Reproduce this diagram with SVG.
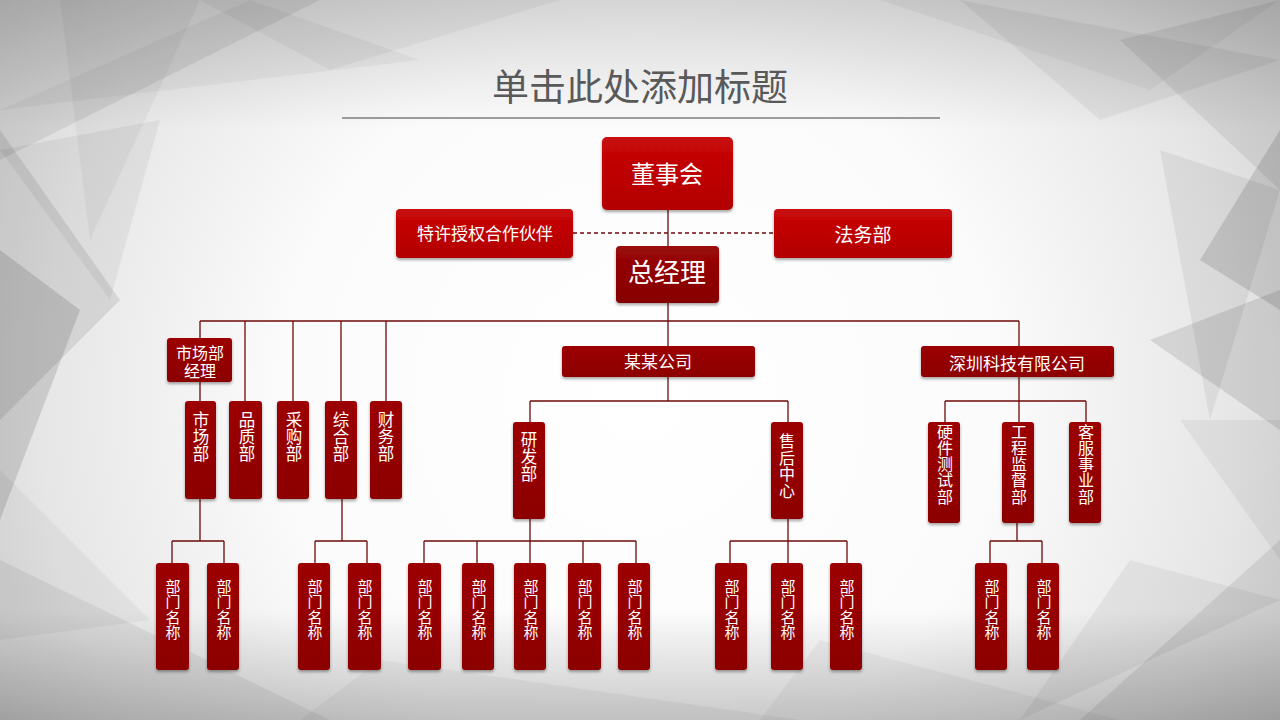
<svg xmlns="http://www.w3.org/2000/svg" width="1280" height="720" viewBox="0 0 1280 720">
<defs>
<radialGradient id="bg" cx="640" cy="400" r="800" gradientUnits="userSpaceOnUse">
<stop offset="0" stop-color="#ffffff"/>
<stop offset="0.45" stop-color="#fbfbfb"/>
<stop offset="0.75" stop-color="#e6e6e6"/>
<stop offset="1" stop-color="#cacaca"/>
</radialGradient>
<linearGradient id="topBand" x1="0" y1="0" x2="0" y2="1">
<stop offset="0" stop-color="#000" stop-opacity="0.14"/>
<stop offset="1" stop-color="#000" stop-opacity="0"/>
</linearGradient>
<linearGradient id="botBand" x1="0" y1="0" x2="0" y2="1">
<stop offset="0" stop-color="#000" stop-opacity="0"/>
<stop offset="1" stop-color="#000" stop-opacity="0.2"/>
</linearGradient>
<linearGradient id="gBright" x1="0" y1="0" x2="0" y2="1">
<stop offset="0" stop-color="#C80808"/>
<stop offset="1" stop-color="#B30000"/>
</linearGradient>
<linearGradient id="gDark" x1="0" y1="0" x2="0" y2="1">
<stop offset="0" stop-color="#9A0808"/>
<stop offset="1" stop-color="#860000"/>
</linearGradient>
<linearGradient id="gSmall" x1="0" y1="0" x2="0" y2="1">
<stop offset="0" stop-color="#9C0404"/>
<stop offset="1" stop-color="#8C0000"/>
</linearGradient>
<filter id="sh" x="-30%" y="-20%" width="160%" height="150%">
<feDropShadow dx="0" dy="2" stdDeviation="1.6" flood-color="#000" flood-opacity="0.35"/>
</filter>
</defs>
<style>
.t{font-family:"Noto Sans CJK SC","Noto Sans",sans-serif;fill:#ffffff;text-anchor:middle}
.title{font-family:"Noto Sans CJK SC","Noto Sans",sans-serif;fill:#595959;text-anchor:middle;font-size:37px}
.bright{fill:url(#gBright);filter:url(#sh)}
.dark{fill:url(#gDark);filter:url(#sh)}
.small{fill:url(#gSmall);filter:url(#sh)}
.v3{font-size:16.5px}
.v5{font-size:16px}
.v4{font-size:15px}
#connectors line{stroke:#6E0A0A;stroke-width:1.3;fill:none}
.facet{fill:#000}
</style>
<g id="background">
<rect width="1280" height="720" fill="url(#bg)"/>
<rect width="1280" height="130" fill="url(#topBand)"/>
<rect y="610" width="1280" height="110" fill="url(#botBand)"/>
<polygon class="facet" opacity="0.07" points="0,0 320,0 0,160"/>
<polygon class="facet" opacity="0.04" points="200,0 560,0 330,70"/>
<polygon class="facet" opacity="0.04" points="250,0 420,60 0,110"/>
<polygon class="facet" opacity="0.04" points="880,0 1280,0 1150,90"/>
<polygon class="facet" opacity="0.07" points="1120,40 1280,0 1280,190"/>
<polygon class="facet" opacity="0.05" points="960,0 1100,120 1280,60"/>
<polygon class="facet" opacity="0.12" points="1280,130 1200,260 1280,310"/>
<polygon class="facet" opacity="0.10" points="1280,290 1150,340 1280,430"/>
<polygon class="facet" opacity="0.06" points="1160,150 1280,190 1210,420"/>
<polygon class="facet" opacity="0.05" points="1180,420 1280,420 1280,560"/>
<polygon class="facet" opacity="0.08" points="1280,540 1080,720 1280,720"/>
<polygon class="facet" opacity="0.05" points="1130,560 1280,600 1020,720"/>
<polygon class="facet" opacity="0.04" points="820,640 1120,720 760,720"/>
<polygon class="facet" opacity="0.04" points="380,660 800,720 300,720"/>
<polygon class="facet" opacity="0.06" points="0,560 330,720 0,720"/>
<polygon class="facet" opacity="0.04" points="0,470 150,620 0,640"/>
<polygon class="facet" opacity="0.09" points="0,130 120,300 0,420"/>
<polygon class="facet" opacity="0.12" points="0,250 80,310 0,520"/>
<polygon class="facet" opacity="0.05" points="0,150 160,120 110,300"/>
<polygon class="facet" opacity="0.04" points="60,0 200,0 90,240"/>
</g>
<line x1="342" y1="118" x2="940" y2="118" stroke="#404040" stroke-width="1"/>
<text class="title" x="640" y="101">单击此处添加标题</text>
<g id="connectors">
<line x1="668" y1="210" x2="668" y2="246"/>
<line x1="573" y1="233" x2="774" y2="233" stroke-dasharray="4 3"/>
<line x1="668" y1="303" x2="668" y2="346"/>
<line x1="200" y1="321" x2="1019" y2="321"/>
<line x1="200" y1="321" x2="200" y2="338"/>
<line x1="200" y1="382" x2="200" y2="401"/>
<line x1="245" y1="321" x2="245" y2="401"/>
<line x1="293" y1="321" x2="293" y2="401"/>
<line x1="341" y1="321" x2="341" y2="401"/>
<line x1="386" y1="321" x2="386" y2="401"/>
<line x1="1019" y1="321" x2="1019" y2="346"/>
<line x1="668" y1="377" x2="668" y2="401"/>
<line x1="530" y1="401" x2="788" y2="401"/>
<line x1="530" y1="401" x2="530" y2="422"/>
<line x1="788" y1="401" x2="788" y2="422"/>
<line x1="1019" y1="377" x2="1019" y2="422"/>
<line x1="945" y1="401" x2="1086" y2="401"/>
<line x1="945" y1="401" x2="945" y2="422"/>
<line x1="1086" y1="401" x2="1086" y2="422"/>
<line x1="200" y1="499" x2="200" y2="541"/>
<line x1="172" y1="541" x2="224" y2="541"/>
<line x1="172" y1="541" x2="172" y2="563"/>
<line x1="224" y1="541" x2="224" y2="563"/>
<line x1="342" y1="499" x2="342" y2="541"/>
<line x1="315" y1="541" x2="367" y2="541"/>
<line x1="315" y1="541" x2="315" y2="563"/>
<line x1="367" y1="541" x2="367" y2="563"/>
<line x1="530" y1="519" x2="530" y2="563"/>
<line x1="424" y1="541" x2="636" y2="541"/>
<line x1="424" y1="541" x2="424" y2="563"/>
<line x1="477" y1="541" x2="477" y2="563"/>
<line x1="583" y1="541" x2="583" y2="563"/>
<line x1="636" y1="541" x2="636" y2="563"/>
<line x1="788" y1="519" x2="788" y2="563"/>
<line x1="730" y1="541" x2="847" y2="541"/>
<line x1="730" y1="541" x2="730" y2="563"/>
<line x1="847" y1="541" x2="847" y2="563"/>
<line x1="1017" y1="523" x2="1017" y2="541"/>
<line x1="990" y1="541" x2="1042" y2="541"/>
<line x1="990" y1="541" x2="990" y2="563"/>
<line x1="1042" y1="541" x2="1042" y2="563"/>
</g>
<g id="board"><rect class="bright" x="602" y="137" width="131" height="73" rx="5"/><text class="t" x="667" y="183" font-size="24">董事会</text></g>
<g id="franchise"><rect class="bright" x="396" y="209" width="177" height="49" rx="4"/><text class="t" x="485" y="240" font-size="17">特许授权合作伙伴</text></g>
<g id="legal"><rect class="bright" x="774" y="209" width="178" height="49" rx="4"/><text class="t" x="863" y="242" font-size="19">法务部</text></g>
<g id="gm"><rect class="dark" x="616" y="246" width="103" height="57" rx="4"/><text class="t" x="667" y="282" font-size="26">总经理</text></g>
<g id="market-mgr"><rect class="small" x="167" y="338" width="65" height="44" rx="3"/><text class="t" font-size="16"><tspan x="200" y="358.5">市场部</tspan><tspan x="200" y="377">经理</tspan></text></g>
<g id="company-a"><rect class="small" x="562" y="346" width="193" height="31" rx="3"/><text class="t" x="658" y="368" font-size="17">某某公司</text></g>
<g id="company-sz"><rect class="small" x="921" y="346" width="193" height="31" rx="3"/><text class="t" x="1017" y="370" font-size="17">深圳科技有限公司</text></g>
<g id="market"><rect class="small" x="185" y="401" width="31" height="98" rx="3"/><text class="t v3"><tspan x="201" y="426">市</tspan><tspan x="201" y="443">场</tspan><tspan x="201" y="460">部</tspan></text></g>
<g id="quality"><rect class="small" x="229" y="401" width="33" height="98" rx="3"/><text class="t v3"><tspan x="247" y="426">品</tspan><tspan x="247" y="443">质</tspan><tspan x="247" y="460">部</tspan></text></g>
<g id="purchase"><rect class="small" x="277" y="401" width="32" height="98" rx="3"/><text class="t v3"><tspan x="294" y="426">采</tspan><tspan x="294" y="443">购</tspan><tspan x="294" y="460">部</tspan></text></g>
<g id="general"><rect class="small" x="325" y="401" width="32" height="98" rx="3"/><text class="t v3"><tspan x="341" y="426">综</tspan><tspan x="341" y="443">合</tspan><tspan x="341" y="460">部</tspan></text></g>
<g id="finance"><rect class="small" x="370" y="401" width="32" height="98" rx="3"/><text class="t v3"><tspan x="386" y="426">财</tspan><tspan x="386" y="443">务</tspan><tspan x="386" y="460">部</tspan></text></g>
<g id="rd"><rect class="small" x="513" y="422" width="32" height="97" rx="3"/><text class="t v3"><tspan x="529" y="446">研</tspan><tspan x="529" y="463">发</tspan><tspan x="529" y="480">部</tspan></text></g>
<g id="aftersales"><rect class="small" x="771" y="422" width="32" height="97" rx="3"/><text class="t v5"><tspan x="787" y="447">售</tspan><tspan x="787" y="463.5">后</tspan><tspan x="787" y="480">中</tspan><tspan x="787" y="496.5">心</tspan></text></g>
<g id="hwtest"><rect class="small" x="928" y="422" width="32" height="101" rx="3"/><text class="t v5"><tspan x="945" y="437.5">硬</tspan><tspan x="945" y="453.8">件</tspan><tspan x="945" y="470.1">测</tspan><tspan x="945" y="486.4">试</tspan><tspan x="945" y="502.7">部</tspan></text></g>
<g id="engineering"><rect class="small" x="1002" y="422" width="32" height="101" rx="3"/><text class="t v5"><tspan x="1019" y="437.5">工</tspan><tspan x="1019" y="453.8">程</tspan><tspan x="1019" y="470.1">监</tspan><tspan x="1019" y="486.4">督</tspan><tspan x="1019" y="502.7">部</tspan></text></g>
<g id="service"><rect class="small" x="1069" y="422" width="32" height="101" rx="3"/><text class="t v5"><tspan x="1086" y="437.5">客</tspan><tspan x="1086" y="453.8">服</tspan><tspan x="1086" y="470.1">事</tspan><tspan x="1086" y="486.4">业</tspan><tspan x="1086" y="502.7">部</tspan></text></g>
<g id="d1"><rect class="small" x="156" y="563" width="33" height="107" rx="3"/><text class="t v4"><tspan x="173" y="592">部</tspan><tspan x="173" y="607.4">门</tspan><tspan x="173" y="622.8">名</tspan><tspan x="173" y="638.2">称</tspan></text></g>
<g id="d2"><rect class="small" x="207" y="563" width="32" height="107" rx="3"/><text class="t v4"><tspan x="224" y="592">部</tspan><tspan x="224" y="607.4">门</tspan><tspan x="224" y="622.8">名</tspan><tspan x="224" y="638.2">称</tspan></text></g>
<g id="d3"><rect class="small" x="298" y="563" width="32" height="107" rx="3"/><text class="t v4"><tspan x="315" y="592">部</tspan><tspan x="315" y="607.4">门</tspan><tspan x="315" y="622.8">名</tspan><tspan x="315" y="638.2">称</tspan></text></g>
<g id="d4"><rect class="small" x="348" y="563" width="33" height="107" rx="3"/><text class="t v4"><tspan x="365" y="592">部</tspan><tspan x="365" y="607.4">门</tspan><tspan x="365" y="622.8">名</tspan><tspan x="365" y="638.2">称</tspan></text></g>
<g id="d5"><rect class="small" x="408" y="563" width="33" height="107" rx="3"/><text class="t v4"><tspan x="425" y="592">部</tspan><tspan x="425" y="607.4">门</tspan><tspan x="425" y="622.8">名</tspan><tspan x="425" y="638.2">称</tspan></text></g>
<g id="d6"><rect class="small" x="462" y="563" width="32" height="107" rx="3"/><text class="t v4"><tspan x="479" y="592">部</tspan><tspan x="479" y="607.4">门</tspan><tspan x="479" y="622.8">名</tspan><tspan x="479" y="638.2">称</tspan></text></g>
<g id="d7"><rect class="small" x="514" y="563" width="32" height="107" rx="3"/><text class="t v4"><tspan x="531" y="592">部</tspan><tspan x="531" y="607.4">门</tspan><tspan x="531" y="622.8">名</tspan><tspan x="531" y="638.2">称</tspan></text></g>
<g id="d8"><rect class="small" x="568" y="563" width="33" height="107" rx="3"/><text class="t v4"><tspan x="585" y="592">部</tspan><tspan x="585" y="607.4">门</tspan><tspan x="585" y="622.8">名</tspan><tspan x="585" y="638.2">称</tspan></text></g>
<g id="d9"><rect class="small" x="618" y="563" width="32" height="107" rx="3"/><text class="t v4"><tspan x="635" y="592">部</tspan><tspan x="635" y="607.4">门</tspan><tspan x="635" y="622.8">名</tspan><tspan x="635" y="638.2">称</tspan></text></g>
<g id="d10"><rect class="small" x="715" y="563" width="32" height="107" rx="3"/><text class="t v4"><tspan x="732" y="592">部</tspan><tspan x="732" y="607.4">门</tspan><tspan x="732" y="622.8">名</tspan><tspan x="732" y="638.2">称</tspan></text></g>
<g id="d11"><rect class="small" x="771" y="563" width="32" height="107" rx="3"/><text class="t v4"><tspan x="788" y="592">部</tspan><tspan x="788" y="607.4">门</tspan><tspan x="788" y="622.8">名</tspan><tspan x="788" y="638.2">称</tspan></text></g>
<g id="d12"><rect class="small" x="830" y="563" width="32" height="107" rx="3"/><text class="t v4"><tspan x="847" y="592">部</tspan><tspan x="847" y="607.4">门</tspan><tspan x="847" y="622.8">名</tspan><tspan x="847" y="638.2">称</tspan></text></g>
<g id="d13"><rect class="small" x="975" y="563" width="32" height="107" rx="3"/><text class="t v4"><tspan x="992" y="592">部</tspan><tspan x="992" y="607.4">门</tspan><tspan x="992" y="622.8">名</tspan><tspan x="992" y="638.2">称</tspan></text></g>
<g id="d14"><rect class="small" x="1027" y="563" width="32" height="107" rx="3"/><text class="t v4"><tspan x="1044" y="592">部</tspan><tspan x="1044" y="607.4">门</tspan><tspan x="1044" y="622.8">名</tspan><tspan x="1044" y="638.2">称</tspan></text></g>
</svg>
